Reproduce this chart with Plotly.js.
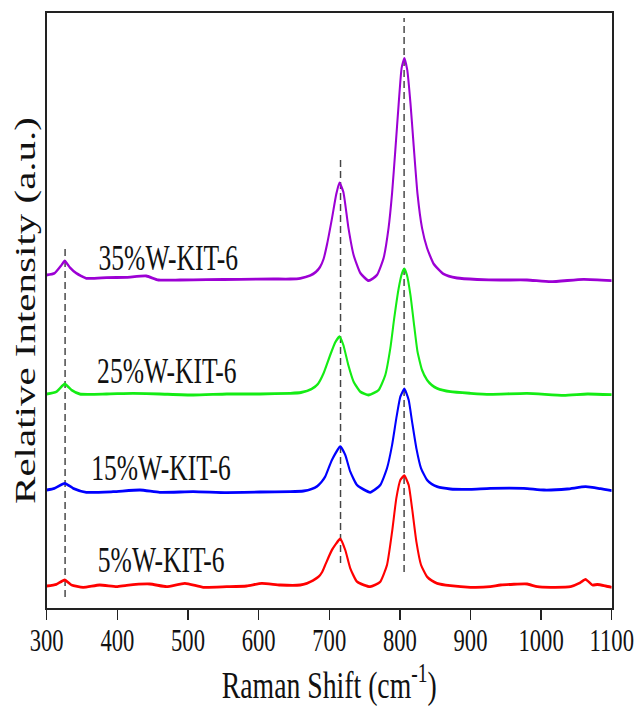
<!DOCTYPE html>
<html><head><meta charset="utf-8">
<script src="https://cdn.plot.ly/plotly-3.0.1.min.js"></script>
<style>
html,body{margin:0;padding:0;overflow:hidden;background:#fff}
#chart{width:874px;height:708px;transform:scaleX(0.73);transform-origin:0 0;}
</style>
</head><body><div id="chart"></div>
<script>
// Raman shift (cm-1) and relative intensity (a.u., offset stacked)
const shift35 = [300,311,321,325.5,332.6,342,356,384.7,413,441,458,488.6,526.5,573.8,621,645,659,673,681,687,692,697,704,710,714.6,720,727,734.5,744,755.8,767.6,777,784,789,793.6,798.3,802.5,806.4,810.5,815,819.6,825,831.4,838.5,848,862,881,909.5,942.6,980,1013.5,1060,1100];
const int35   = [333,334.7,343,347,340.7,334.7,329.7,330.3,330.7,332,328,328,328.3,328.7,329,329,329.7,332.5,336,341,349,364,390,414,425,416,381,353,335,327.3,333,350,380,415,458,504,540,549.7,538,505,462,414,380,360,344,334,330,328.5,328,328,326.3,328.7,327.3];

const shift25 = [300,313.7,325.5,335,346.8,384.7,422,460,507.5,555,602,645,660,675,684,692,701.4,708.5,714.6,720,727,734.5,744,755.8,770,779.4,786.5,792,798.3,803,806.4,810,815,819.6,825,831.4,838.5,845,852.7,871.6,900,928,980,1032,1065.6,1100];
const int25   = [214,216.3,224,218,214,214,214.7,214,213,214,214,214.7,215.5,219,224,234.7,253,265.7,271.3,263,243,226.3,216.3,213,218,233,259.7,289.7,319.7,334.7,339,333,313,286.3,256.3,238,228,223,219.7,216.3,214.7,213.7,214.7,212.7,214,213.3];

const shift15 = [300,311,325.5,337.4,356,394,432,460,507.5,555,602,645,663.6,675,683,689,694.3,703.8,715.6,722.7,729.8,739.3,758,772.3,781.8,789,795,800.7,806.4,812.5,817.3,823.4,830,838.5,845,852.7,871.6,900,928,975.6,1004,1037,1063,1084,1100];
const int15   = [118,119.7,124.7,119.7,115.7,116.3,118,115.7,116.3,115.3,116,116.3,117,119,121.8,126,131.3,148,161.3,153,136.3,123,115.7,123,139.7,163,189.7,211.3,219,208,186.3,159.7,139.7,128,124,121.3,119,118.7,119.7,119.7,118,119,121.3,119.3,117.3];

const shift5 = [300,313.7,325.5,335,351.5,375,399,413,446,469.8,495.7,521.7,555,583,604.5,630.5,659,668.4,677,685,690,694.3,703.8,715.6,722.7,729.8,739.3,758,772.3,781.8,789,795,800.7,806.4,812.5,817.3,823.4,830,838.5,845,852.7,871.6,900,928,942.6,980.4,994.6,1013.5,1041.8,1053.7,1063,1072.5,1079.6,1091.5,1100];
const int5   = [22,23.7,28,23,20.7,23,21.3,22.7,24,21.3,24.7,20.7,21.3,22,24.7,23,23,24.7,27.5,31.3,36,43,58,69,58,39.7,26.3,21.3,26.3,43,76.3,109.7,128,132.3,123,99.7,66.3,43,31.3,27.5,24.7,22.3,20.7,21.3,23,24,21.3,20.7,21.3,24.7,28.7,23,23.5,22,20.7];

const sampleNames = ["35%W-KIT-6","25%W-KIT-6","15%W-KIT-6","5%W-KIT-6"];
const labelX = [472, 470, 461.5, 462.7];
const labelY = [350, 237, 140, 48];

const bandPositions = [326, 716, 806];
const bandLow  = [11, 45, 36];
const bandHigh = [363, 449, 590];

const xTicks = [300,400,500,600,700,800,900,1000,1100];

const colors = ["#9c00d4","#14ec14","#0000ff","#ff0000"];
const shifts = [shift35, shift25, shift15, shift5];
const ints = [int35, int25, int15, int5];

const FONT = "Liberation Serif, Times New Roman, serif";

const traces = shifts.map((s,i)=>({
  x: s, y: ints[i], type:'scatter', mode:'lines', name: sampleNames[i],
  line:{color:colors[i], width:2.8, shape:'spline', smoothing:0.5},
  hoverinfo:'skip'
}));

const shapes = bandPositions.map((p,i)=>({
  type:'line', xref:'x', yref:'y', x0:p, x1:p, y0:bandLow[i], y1:bandHigh[i],
  line:{color:'#444', width:2, dash:'7px,4px'}, layer:'below'
}));

const annotations = sampleNames.map((t,i)=>({
  x: labelX[i], y: labelY[i], xref:'x', yref:'y', text:t, showarrow:false,
  xanchor:'center', yanchor:'middle', font:{family:FONT, size:35, color:'#111'}
}));

const layout = {
  width:874, height:708,
  margin:{l:64, r:36, t:13, b:100},
  paper_bgcolor:'#fff', plot_bgcolor:'#fff',
  showlegend:false,
  xaxis:{
    range:[300,1100], tickvals:xTicks, ticktext:xTicks.map(String),
    ticks:'outside', ticklen:10, tickwidth:2, tickcolor:'#222',
    ticklabelstandoff:-6,
    showline:true, linecolor:'#222', linewidth:2, mirror:true,
    showgrid:false, zeroline:false,
    tickfont:{family:FONT, size:31, color:'#111'},
    title:{text:'Raman Shift (cm<sup>-1</sup>)', font:{family:FONT, size:38, color:'#111'}, standoff:10}
  },
  yaxis:{
    range:[0,595], showticklabels:false, ticks:'',
    showline:true, linecolor:'#222', linewidth:2.6, mirror:true,
    showgrid:false, zeroline:false,
    title:{text:'Relative Intensity (a.u.)', font:{family:FONT, size:41, color:'#111'}, standoff:0}
  },
  shapes: shapes,
  annotations: annotations
};

Plotly.newPlot('chart', traces, layout, {staticPlot:true, displayModeBar:false});
</script></body></html>
